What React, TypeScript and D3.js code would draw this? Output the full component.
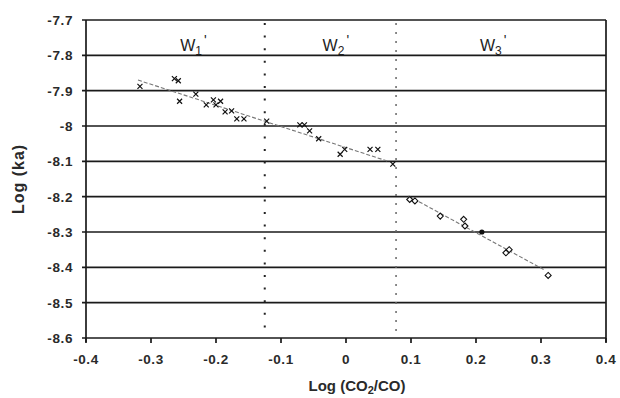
import * as d3 from "d3";

// ── Data ────────────────────────────────────────────────
const crossX = [-0.317, -0.264, -0.258, -0.256, -0.231, -0.215, -0.204, -0.2, -0.193, -0.186, -0.176, -0.168, -0.157,
  -0.122, -0.071, -0.064, -0.056, -0.042, -0.009, -0.002, 0.037, 0.049, 0.072];
const crossY = [-7.888, -7.866, -7.872, -7.93, -7.91, -7.94, -7.926, -7.94, -7.93, -7.96, -7.957, -7.98, -7.98,
  -7.986, -7.997, -7.997, -8.014, -8.036, -8.08, -8.066, -8.066, -8.066, -8.108];
const diamX = [0.098, 0.106, 0.145, 0.181, 0.183, 0.246, 0.251, 0.311];
const diamY = [-8.208, -8.212, -8.255, -8.264, -8.283, -8.359, -8.35, -8.423];
const dotX = [0.209];
const dotY = [-8.3];

const fit1 = [[-0.32, -7.87], [0.065, -8.1]];
const fit2 = [[0.096, -8.198], [0.304, -8.406]];

const xTicks = [-0.4, -0.3, -0.2, -0.1, 0, 0.1, 0.2, 0.3, 0.4];
const yTicks = [-7.7, -7.8, -7.9, -8, -8.1, -8.2, -8.3, -8.4, -8.5, -8.6];
const boundaries = [-0.125, 0.077];
const zones = [
  { sub: "1", x: -0.255 },
  { sub: "2", x: -0.036 },
  { sub: "3", x: 0.206 },
];

// ── Layout ──────────────────────────────────────────────
const W = 620, H = 398;
const L = 86, R = 606, T = 20, B = 338;
const x = d3.scaleLinear().domain([-0.4, 0.4]).range([L, R]);
const y = d3.scaleLinear().domain([-8.6, -7.7]).range([B, T]);
const FONT = "'Liberation Sans', Arial, sans-serif";
const line = d3.line<number[]>().x(d => x(d[0])).y(d => y(d[1]));

export default function App() {
  return (
    <svg width={W} height={H} style={{ position: "absolute", left: 0, top: 0, background: "#fff" }}
      fontFamily={FONT}>
      {/* horizontal grid */}
      {yTicks.map(t => (
        <g key={t}>
          <line x1={L - 4} x2={R} y1={y(t)} y2={y(t)} stroke="#1a1a1a" strokeWidth={1.7} />
          <text x={73} y={y(t)} dy="0.36em" textAnchor="end" fontSize={13.5} fontWeight="bold" fill="#2a2a2a"
            letterSpacing={0.6}>
            {t === -8 ? "-8" : t.toFixed(1)}
          </text>
        </g>
      ))}
      {/* axes */}
      <line x1={L} x2={L} y1={T} y2={B + 4} stroke="#1a1a1a" strokeWidth={1.7} />
      <line x1={R} x2={R} y1={T} y2={B + 4} stroke="#1a1a1a" strokeWidth={1.7} />
      {xTicks.map(t => (
        <g key={t}>
          <line x1={x(t)} x2={x(t)} y1={B} y2={B + 5} stroke="#1a1a1a" strokeWidth={1.7} />
          <text x={x(t)} y={364} textAnchor="middle" fontSize={13.5} fontWeight="bold" fill="#2a2a2a" letterSpacing={0.6}>
            {t === 0 ? "0" : t.toFixed(1)}
          </text>
        </g>
      ))}

      {/* zone boundaries */}
      <line x1={x(boundaries[0])} x2={x(boundaries[0])} y1={T + 3} y2={B - 2}
        stroke="#222" strokeWidth={2} strokeDasharray="2,10.6" />
      <line x1={x(boundaries[1])} x2={x(boundaries[1])} y1={T + 3} y2={B - 2}
        stroke="#666" strokeWidth={1.5} strokeDasharray="2,7" />

      {/* zone labels */}
      {zones.map(z => (
        <text key={z.sub} x={x(z.x)} y={51} fontSize={16} fill="#222">
          W<tspan fontSize={12} dy={4}>{z.sub}</tspan>
          <tspan fontSize={14} dy={-10} dx={2}>'</tspan>
        </text>
      ))}

      {/* fitted lines */}
      <path d={line(fit1) ?? ""} fill="none" stroke="#777" strokeWidth={1.1} strokeDasharray="4,2" />
      <path d={line(fit2) ?? ""} fill="none" stroke="#777" strokeWidth={1.1} strokeDasharray="4,2" />

      {/* points */}
      {crossX.map((v, i) => {
        const cx = x(v), cy = y(crossY[i]);
        return (
          <path key={"c" + i} d={`M${cx - 2.5},${cy - 2.5}L${cx + 2.5},${cy + 2.5}M${cx - 2.5},${cy + 2.5}L${cx + 2.5},${cy - 2.5}`}
            stroke="#111" strokeWidth={1.2} />
        );
      })}
      {diamX.map((v, i) => {
        const cx = x(v), cy = y(diamY[i]);
        return (
          <path key={"d" + i} d={`M${cx},${cy - 3}L${cx + 3},${cy}L${cx},${cy + 3}L${cx - 3},${cy}Z`}
            fill="#fff" stroke="#111" strokeWidth={1.1} />
        );
      })}
      {dotX.map((v, i) => (
        <circle key={"p" + i} cx={x(v)} cy={y(dotY[i])} r={2.6} fill="#111" />
      ))}

      {/* axis titles */}
      <text x={x(0) + 11} y={391} textAnchor="middle" fontSize={15} fontWeight="bold" fill="#2a2a2a">
        Log (CO<tspan fontSize={11} dy={3}>2</tspan><tspan dy={-3}>/CO)</tspan>
      </text>
      <text transform={`translate(24,${(T + B) / 2}) rotate(-90)`} textAnchor="middle" fontSize={16}
        fontWeight="bold" fill="#2a2a2a" letterSpacing={1}>
        Log (ka)
      </text>
    </svg>
  );
}
